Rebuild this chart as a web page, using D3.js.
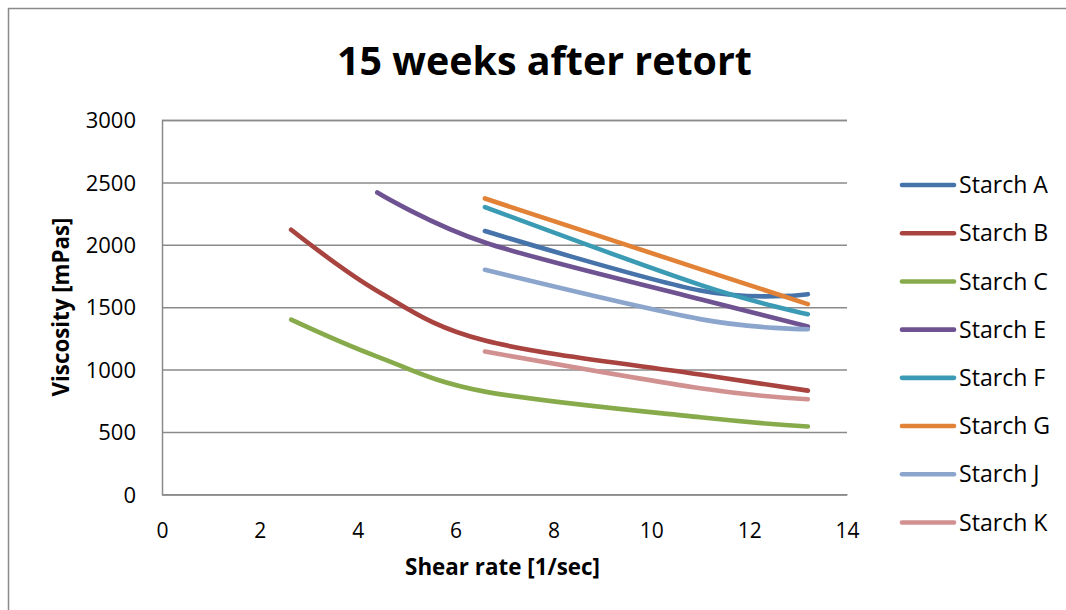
<!DOCTYPE html>
<html>
<head>
<meta charset="utf-8">
<script src="https://cdn.jsdelivr.net/npm/d3@7"></script>
<style>
  html, body { margin: 0; padding: 0; background: #fff; }
  svg { display: block; }
  text { font-family: "Open Sans", "Noto Sans", sans-serif; fill: #000; }
</style>
</head>
<body>
<svg id="chart" width="1066" height="610"></svg>
<script>
// ---- data ----
const shearRate = [2.64, 4.4, 6.6, 11, 13.2];
const seriesNames = ["Starch A", "Starch B", "Starch C", "Starch E", "Starch F", "Starch G", "Starch J", "Starch K"];
const starchA = [null, null, 2110, 1633, 1604];
const starchB = [2120, 1630, 1232, 960, 831];
const starchC = [1400, 1104, 823, 617, 543];
const starchE = [null, 2419, 2018, 1564, 1345];
const starchF = [null, null, 2302, 1679, 1444];
const starchG = [null, null, 2371, 1805, 1524];
const starchJ = [null, null, 1799, 1404, 1323];
const starchK = [null, null, 1144, 850, 762];
const seriesValues = [starchA, starchB, starchC, starchE, starchF, starchG, starchJ, starchK];
const seriesColors = ["#4673AA", "#A8433F", "#87AA4B", "#6E5291", "#3C9BB4", "#E18237", "#8CA5CD", "#D29191"];
const xTicks = [0, 2, 4, 6, 8, 10, 12, 14];
const yTicks = [0, 500, 1000, 1500, 2000, 2500, 3000];
const titleText = "15 weeks after retort";
const xTitle = "Shear rate [1/sec]";
const yTitle = "Viscosity [mPas]";

// ---- layout ----
const svg = d3.select("#chart");
const x = d3.scaleLinear().domain([0, 14]).range([162, 847]);
const y = d3.scaleLinear().domain([0, 3000]).range([494.3, 120]);

function fitText(sel, target) {
  const node = sel.node();
  const fs = parseFloat(sel.attr("font-size"));
  const w = node.getComputedTextLength();
  sel.attr("font-size", (fs * target / w).toFixed(2));
}

// outer border
svg.append("rect")
  .attr("x", 8.5).attr("y", 8.5)
  .attr("width", 1100).attr("height", 700)
  .attr("fill", "none").attr("stroke", "#8a8a8a").attr("stroke-width", 1.5);

// gridlines
const yAxis = d3.axisLeft(y).tickValues(yTicks).tickSize(-(x.range()[1] - x.range()[0])).tickPadding(26).tickFormat(d3.format("d"));
const gy = svg.append("g").attr("transform", `translate(${x.range()[0]},0)`).call(yAxis);
gy.select(".domain").attr("stroke", "#8a8a8a").attr("stroke-width", 1.5);
gy.selectAll(".tick line").attr("stroke", "#8a8a8a").attr("stroke-width", 1.5);
gy.selectAll(".tick text").attr("font-size", 22).attr("fill", "#000")
  .attr("font-family", "'Open Sans', sans-serif").attr("dy", "0.35em");
gy.selectAll(".tick text").each(function() { d3.select(this).attr("x", -26); });

const xAxis = d3.axisBottom(x).tickValues(xTicks).tickSize(0).tickPadding(0).tickFormat(d3.format("d"));
const gx = svg.append("g").attr("transform", `translate(0,${y(0)})`).call(xAxis);
gx.select(".domain").attr("stroke", "#8a8a8a").attr("stroke-width", 1.5);
gx.selectAll(".tick text").attr("font-size", 21).attr("fill", "#000")
  .attr("font-family", "'Open Sans', sans-serif").attr("y", 36).attr("dy", "0.35em");

// lines
const line = d3.line()
  .x(d => x(d.x)).y(d => y(d.v))
  .curve(d3.curveCardinal.tension(0));

seriesValues.forEach((vals, i) => {
  const pts = shearRate.map((sx, j) => ({ x: sx, v: vals[j] })).filter(d => d.v != null);
  svg.append("path")
    .datum(pts)
    .attr("d", line)
    .attr("fill", "none")
    .attr("stroke", seriesColors[i])
    .attr("stroke-width", 4.6)
    .attr("stroke-linecap", "round")
    .attr("stroke-linejoin", "round");
});

// title
const t = svg.append("text")
  .attr("x", 544.5).attr("y", 75)
  .attr("text-anchor", "middle")
  .attr("font-weight", "bold")
  .attr("font-size", 40)
  .text(titleText);
fitText(t, 415);

// axis titles
const xt = svg.append("text")
  .attr("x", 502.5).attr("y", 575)
  .attr("text-anchor", "middle")
  .attr("font-weight", "bold")
  .attr("font-size", 20)
  .text(xTitle);
fitText(xt, 195);

const yt = svg.append("text")
  .attr("transform", "translate(69,307) rotate(-90)")
  .attr("text-anchor", "middle")
  .attr("font-weight", "bold")
  .attr("font-size", 20)
  .text(yTitle);
fitText(yt, 179);

// legend
const legend = svg.append("g");
const legY = d3.scalePoint().domain(seriesNames).range([185, 522.5]);
seriesNames.forEach((name, i) => {
  const yy = legY(name);
  legend.append("line")
    .attr("x1", 902).attr("x2", 954)
    .attr("y1", yy).attr("y2", yy)
    .attr("stroke", seriesColors[i])
    .attr("stroke-width", 4.6)
    .attr("stroke-linecap", "round");
  const lt = legend.append("text")
    .attr("x", 959).attr("y", yy)
    .attr("dy", "0.35em")
    .attr("font-size", 20)
    .text(name);
});
// fit legend font using first entry
const first = legend.select("text");
const fs0 = 20, w0 = first.node().getComputedTextLength();
legend.selectAll("text").attr("font-size", (fs0 * 89 / w0).toFixed(2));
</script>
</body>
</html>
